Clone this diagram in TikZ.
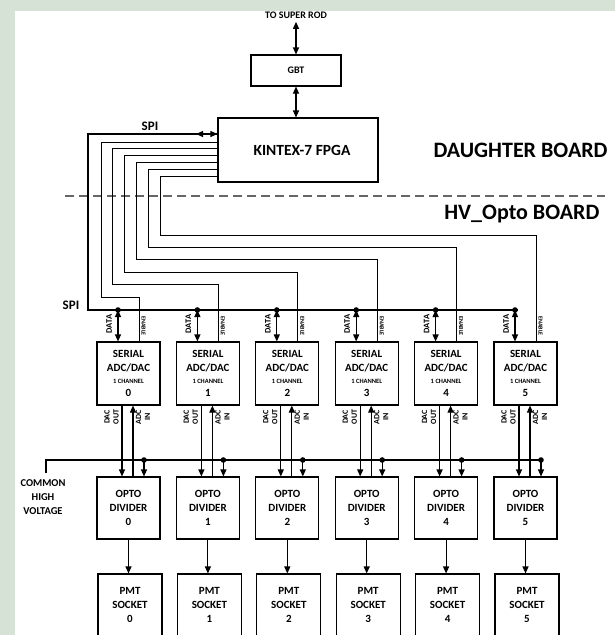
\documentclass[tikz,border=0pt]{standalone}
\usepackage{fontspec}
\setmainfont{Carlito}
\usetikzlibrary{arrows.meta,positioning}
\definecolor{frame}{RGB}{213,226,213}
\newcommand{\fsz}[1]{\fontsize{#1}{#1}\selectfont}

\tikzset{
  blk/.style={draw, line width=1.1pt, minimum width=63pt, minimum height=63pt, align=center, inner sep=0pt, font=\bfseries\fontsize{11}{14}\selectfont},
  sig/.style={line width=1.1pt},
  bus/.style={line width=2pt},
  tip/.style={-{Triangle[length=7pt,width=6pt]}},
  dbl/.style={{Triangle[length=7pt,width=6pt]}-{Triangle[length=7pt,width=6pt]}},
  vtag/.style={rotate=90, align=center, inner sep=0pt, font=\bfseries\fontsize{8}{9}\selectfont},
  entag/.style={rotate=-90, inner sep=0pt, font=\bfseries\fsz{6}},
}

\begin{document}
\begin{tikzpicture}[x=1pt, y=-1pt, every node/.style={font=\bfseries}]
\useasboundingbox (0,0) rectangle (615,635);
\fill[frame] (0,0) rectangle (615,635);
\fill[white] (15,11) rectangle (615,635);

% daughter board
\node[font=\bfseries\fsz{10}] (rod) at (296,15) {TO SUPER ROD};
\node[draw, line width=1.1pt, minimum width=90pt, minimum height=31pt, font=\bfseries\fsz{10}] (gbt) at (296,70.5) {GBT};
\node[draw, line width=1.1pt, minimum width=160pt, minimum height=64pt, font=\bfseries\fsz{15.5}] (fpga) at (298,150) {\hspace*{8pt}KINTEX-7 FPGA};
\draw[sig,dbl] (rod.south) -- (gbt.north);
\draw[sig,dbl] (gbt.south) -- (gbt.south |- fpga.north);
\node[anchor=base west, font=\bfseries\fsz{22}] (dtb) at (430,157) {DAUGHTER BOARD};

\coordinate (cutL) at (65,196);
\coordinate (cutR) at (605,196);
\draw[dash pattern=on 9pt off 5pt, line width=1.2pt, black!60] (cutL) -- (cutR);
\node[anchor=base east, font=\bfseries\fsz{22}] (hvb) at (603,219) {HV\_Opto BOARD};

% spi bus
\coordinate (spiC) at (88,134);
\coordinate (spiA) at (196,134);
\coordinate (busL) at (88,310);
\coordinate (busR) at (518,310);
\draw[bus] (fpga.west |- spiC) -- (spiC) -- (busL) -- (busR);
\draw[sig,dbl] (spiA) -- (fpga.west |- spiA);
\node[font=\bfseries\fsz{13}] (spiT) at (150,126) {SPI};
\node[font=\bfseries\fsz{13}] (spiB) at (71,305) {SPI};

% common high voltage
\coordinate (hvL) at (46,473);
\coordinate (hvC) at (46,460);
\coordinate (hvR) at (541,460);
\draw[sig] (hvL) -- (hvC) -- (hvR);
\node[align=center, font=\bfseries\fontsize{10.5}{14}\selectfont] (chv) at (43,497) {COMMON\\HIGH\\VOLTAGE};

\foreach \i in {0,...,5} {
  \pgfmathsetmacro\cx{128.5+79.4*\i}
  \pgfmathsetmacro\ex{101+11.8*\i}
  \pgfmathsetmacro\ey{142+6.8*\i}
  \pgfmathsetmacro\eb{297-12.4*\i}
  \node[blk] (adc\i) at (\cx,373.5) {SERIAL\\ADC/DAC\\[-2pt]{\fsz{6.5}1 CHANNEL}\\[-1pt]\i};
  \node[blk, minimum height=62pt] (opto\i) at (\cx,508) {OPTO\\DIVIDER\\\i};
  \node[blk, minimum width=64pt, minimum height=62pt] (pmt\i) at (\cx+1.5,605) {PMT\\SOCKET\\\i};
  % data and enable
  \coordinate (dat\i) at (\cx-10.5,310);
  \fill (dat\i) circle[radius=2.8pt];
  \draw[sig,dbl] (dat\i) -- (dat\i |- adc\i.north);
  \node[vtag, font=\bfseries\fsz{8.5}] (dl\i) at (\cx-19.5,324) {DATA};
  \coordinate (enA\i) at (\ex,\ey);
  \coordinate (enB\i) at (\ex,\eb);
  \coordinate (en\i) at (\cx+10.5,\eb);
  \draw[line width=0.9pt] (fpga.west |- enA\i) -- (enA\i) -- (enB\i) -- (en\i) -- (en\i |- adc\i.north);
  \node[entag] (el\i) at (\cx+15,326) {ENABLE};
  % dac / adc
  \draw[sig,tip] ([xshift=-6.5pt]adc\i.south) -- ([xshift=-6.5pt]opto\i.north);
  \draw[sig,tip] ([xshift=4.5pt]opto\i.north) -- ([xshift=4.5pt]adc\i.south);
  \node[vtag] (dol\i) at (\cx-17,417) {DAC\\OUT};
  \node[vtag] (ail\i) at (\cx+14.5,417) {ADC\\IN};
  % high voltage
  \coordinate (hv\i) at (\cx+15.5,460);
  \fill (hv\i) circle[radius=2.8pt];
  \draw[sig,tip] (hv\i) -- (hv\i |- opto\i.north);
  \draw[sig,tip] (opto\i) -- (opto\i |- pmt\i.north);
}
\end{tikzpicture}
\end{document}
